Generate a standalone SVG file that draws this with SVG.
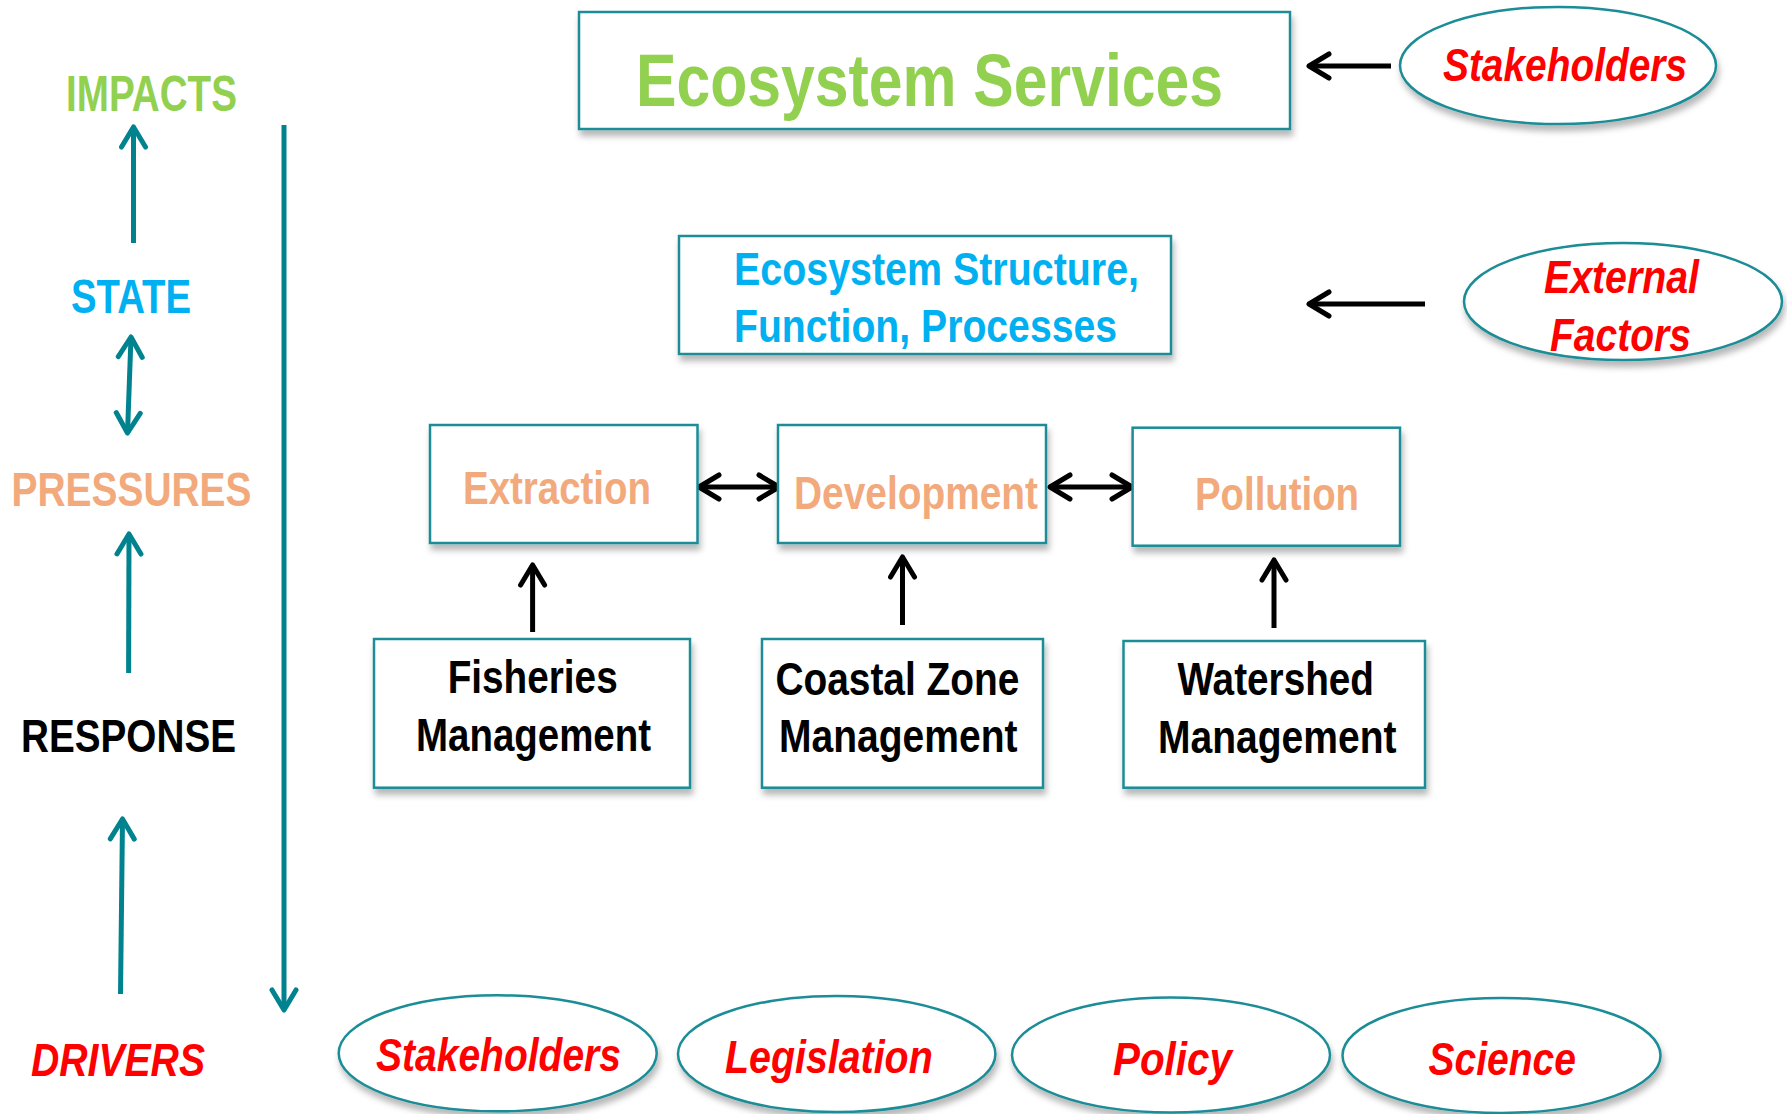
<svg xmlns="http://www.w3.org/2000/svg" width="1787" height="1114" viewBox="0 0 1787 1114">
<defs>
<style>
.t{font-family:"Liberation Sans",Arial,sans-serif;font-weight:bold}
.box{fill:#fff;stroke:#1A8C96;stroke-width:2.5;filter:url(#sh)}
.teal{stroke:#00838F;stroke-width:5;fill:none}
.blk{stroke:#000;stroke-width:5;fill:none}
.red{fill:#FF0000;font-style:italic}
.org{fill:#F2A97C}
</style>
<filter id="sh" x="-10%" y="-15%" width="125%" height="145%">
<feDropShadow dx="2" dy="6" stdDeviation="3" flood-color="#000" flood-opacity="0.28"/>
</filter>
<marker id="ah" markerUnits="userSpaceOnUse" viewBox="-25 -15 30 30" markerWidth="30" markerHeight="30" refX="0" refY="0" orient="auto-start-reverse">
<path d="M-20,-12 L0,0 L-20,12" fill="none" stroke="#00838F" stroke-width="5" stroke-linecap="round" stroke-linejoin="round"/>
</marker>
<marker id="ab" markerUnits="userSpaceOnUse" viewBox="-25 -15 30 30" markerWidth="30" markerHeight="30" refX="0" refY="0" orient="auto-start-reverse">
<path d="M-20,-12 L0,0 L-20,12" fill="none" stroke="#000" stroke-width="5" stroke-linecap="round" stroke-linejoin="round"/>
</marker>
</defs>
<rect width="1787" height="1114" fill="#fff"/>

<g id="dpsir-labels">
<text class="t" x="66" y="111" font-size="50" textLength="171" lengthAdjust="spacingAndGlyphs" fill="#92D050">IMPACTS</text>
<text class="t" x="71" y="313" font-size="49" textLength="120" lengthAdjust="spacingAndGlyphs" fill="#00B0F0">STATE</text>
<text class="t org" x="11.5" y="505.6" font-size="49" textLength="240" lengthAdjust="spacingAndGlyphs">PRESSURES</text>
<text class="t" x="21" y="752" font-size="47" textLength="215" lengthAdjust="spacingAndGlyphs" fill="#000">RESPONSE</text>
<text class="t red" x="31" y="1076" font-size="47" textLength="174" lengthAdjust="spacingAndGlyphs">DRIVERS</text>
</g>

<g id="connectors">
<line class="teal" x1="133.5" y1="243" x2="133.5" y2="127" marker-end="url(#ah)"/>
<line class="teal" x1="131" y1="337" x2="127.5" y2="433" marker-start="url(#ah)" marker-end="url(#ah)"/>
<line class="teal" x1="128.6" y1="673" x2="129" y2="534" marker-end="url(#ah)"/>
<line class="teal" x1="120.5" y1="994" x2="122.5" y2="819" marker-end="url(#ah)"/>
<line class="teal" x1="284" y1="125" x2="284" y2="1010" marker-end="url(#ah)"/>
<line class="blk" x1="1391" y1="66" x2="1309" y2="66" marker-end="url(#ab)"/>
<line class="blk" x1="1425" y1="304" x2="1309" y2="304" marker-end="url(#ab)"/>
<line class="blk" x1="699" y1="487" x2="779" y2="487" marker-start="url(#ab)" marker-end="url(#ab)"/>
<line class="blk" x1="1050" y1="487" x2="1132" y2="487" marker-start="url(#ab)" marker-end="url(#ab)"/>
<line class="blk" x1="532.6" y1="632" x2="532.6" y2="565" marker-end="url(#ab)"/>
<line class="blk" x1="902.5" y1="625" x2="902.5" y2="557" marker-end="url(#ab)"/>
<line class="blk" x1="1274" y1="628" x2="1274" y2="560" marker-end="url(#ab)"/>
</g>

<g id="ecosystem-services">
<rect class="box" x="579" y="12" width="711" height="117"/>
<text class="t" x="636" y="106" font-size="74" textLength="587" lengthAdjust="spacingAndGlyphs" fill="#92D050">Ecosystem Services</text>
</g>

<g id="stakeholders-top">
<ellipse class="box" cx="1558" cy="65.5" rx="158" ry="58.5"/>
<text class="t red" x="1443" y="81" font-size="47" textLength="244" lengthAdjust="spacingAndGlyphs">Stakeholders</text>
</g>

<g id="ecosystem-structure">
<rect class="box" x="679" y="236" width="492" height="118"/>
<text class="t" x="734" y="285" font-size="47" textLength="405" lengthAdjust="spacingAndGlyphs" fill="#00B0F0">Ecosystem Structure,</text>
<text class="t" x="734" y="342" font-size="47" textLength="383" lengthAdjust="spacingAndGlyphs" fill="#00B0F0">Function, Processes</text>
</g>

<g id="external-factors">
<ellipse class="box" cx="1623" cy="301.5" rx="159" ry="58.5"/>
<text class="t red" x="1544" y="293" font-size="47" textLength="155" lengthAdjust="spacingAndGlyphs">External</text>
<text class="t red" x="1550" y="351" font-size="47" textLength="141" lengthAdjust="spacingAndGlyphs">Factors</text>
</g>

<g id="extraction">
<rect class="box" x="430" y="425" width="267.5" height="118"/>
<text class="t org" x="463" y="504" font-size="46" textLength="188" lengthAdjust="spacingAndGlyphs">Extraction</text>
</g>
<g id="development">
<rect class="box" x="778" y="425" width="268" height="118"/>
<text class="t org" x="794" y="509" font-size="46" textLength="244" lengthAdjust="spacingAndGlyphs">Development</text>
</g>
<g id="pollution">
<rect class="box" x="1132.6" y="427.7" width="267.4" height="118"/>
<text class="t org" x="1195" y="510" font-size="46" textLength="164" lengthAdjust="spacingAndGlyphs">Pollution</text>
</g>

<g id="fisheries-management">
<rect class="box" x="374" y="639" width="316" height="148.7"/>
<text class="t" x="447.7" y="693" font-size="47" textLength="170" lengthAdjust="spacingAndGlyphs" fill="#000">Fisheries</text>
<text class="t" x="416" y="750.7" font-size="47" textLength="235" lengthAdjust="spacingAndGlyphs" fill="#000">Management</text>
</g>
<g id="coastal-zone-management">
<rect class="box" x="762" y="639" width="281" height="148.7"/>
<text class="t" x="775.4" y="695" font-size="47" textLength="244" lengthAdjust="spacingAndGlyphs" fill="#000">Coastal Zone</text>
<text class="t" x="779" y="751.7" font-size="47" textLength="238.5" lengthAdjust="spacingAndGlyphs" fill="#000">Management</text>
</g>
<g id="watershed-management">
<rect class="box" x="1123.5" y="641" width="301.5" height="146.7"/>
<text class="t" x="1177.5" y="695" font-size="47" textLength="196.5" lengthAdjust="spacingAndGlyphs" fill="#000">Watershed</text>
<text class="t" x="1158" y="753" font-size="47" textLength="238.5" lengthAdjust="spacingAndGlyphs" fill="#000">Management</text>
</g>

<g id="stakeholders-bottom">
<ellipse class="box" cx="497.7" cy="1053.3" rx="159" ry="58"/>
<text class="t red" x="376" y="1070.7" font-size="47" textLength="245" lengthAdjust="spacingAndGlyphs">Stakeholders</text>
</g>
<g id="legislation">
<ellipse class="box" cx="836.7" cy="1054" rx="158.7" ry="58"/>
<text class="t red" x="725" y="1073" font-size="47" textLength="207.7" lengthAdjust="spacingAndGlyphs">Legislation</text>
</g>
<g id="policy">
<ellipse class="box" cx="1171" cy="1055" rx="159" ry="57.5"/>
<text class="t red" x="1113" y="1075" font-size="47" textLength="119" lengthAdjust="spacingAndGlyphs">Policy</text>
</g>
<g id="science">
<ellipse class="box" cx="1501.5" cy="1055.4" rx="159" ry="57.5"/>
<text class="t red" x="1428.5" y="1075" font-size="47" textLength="147.5" lengthAdjust="spacingAndGlyphs">Science</text>
</g>
</svg>
